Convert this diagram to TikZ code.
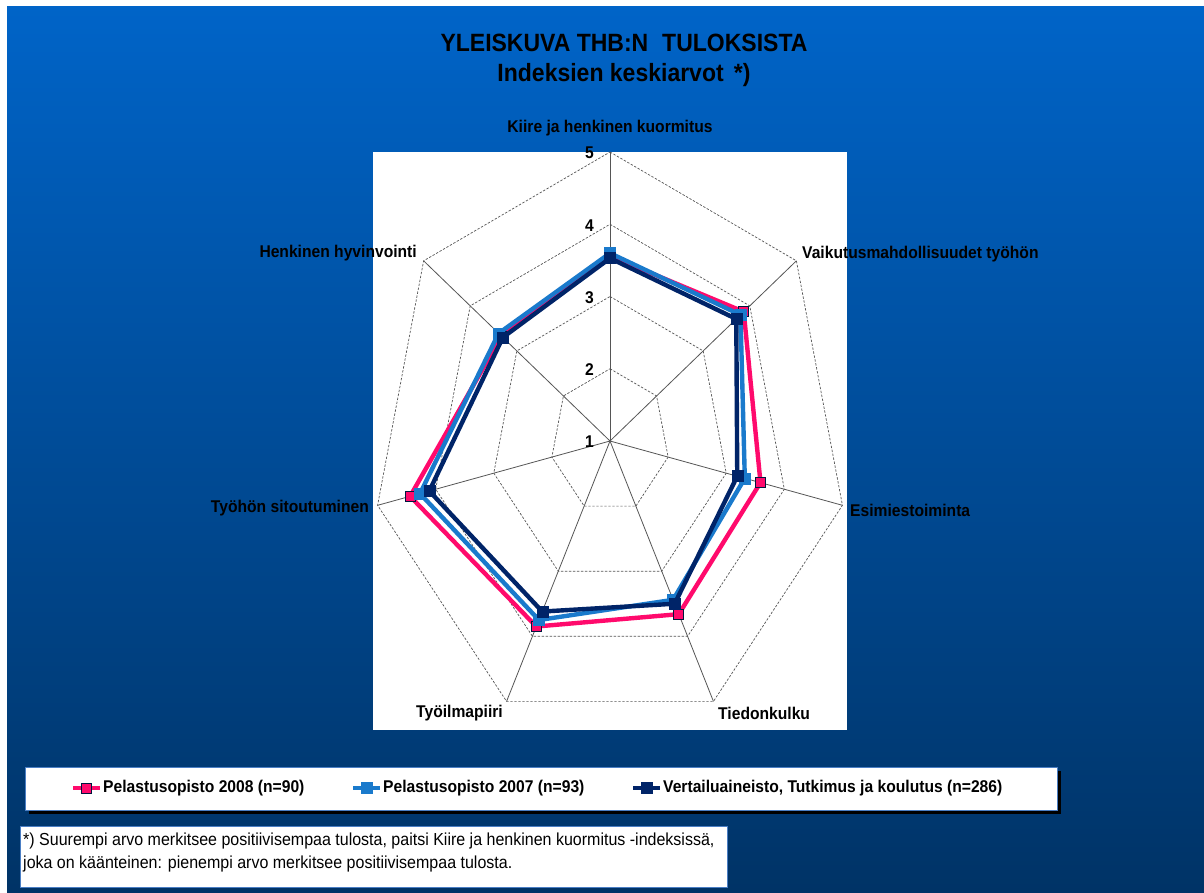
\documentclass[tikz,border=0pt]{standalone}
\usepackage{fontspec}
\setmainfont{Liberation Sans}[FakeStretch=0.92]
\definecolor{bgtop}{HTML}{0064C8}
\definecolor{bgbot}{HTML}{003366}
\definecolor{cpink}{HTML}{FF0A6C}
\definecolor{cblue}{HTML}{1A7ACC}
\definecolor{cnavy}{HTML}{002468}
\definecolor{gridc}{HTML}{555555}
\definecolor{boxedge}{HTML}{4A7EC4}
\begin{document}
\begin{tikzpicture}[x=1pt,y=-1pt,
  lab/.style={font=\bfseries\fontsize{17}{19}\selectfont, text=black, inner sep=0pt},
  ticklab/.style={font=\bfseries\fontsize{17}{19}\selectfont, text=black, inner sep=0pt, anchor=east},
  ring/.style={draw=gridc, line width=0.7pt, dash pattern=on 2.4pt off 1.6pt},
  axisline/.style={draw=gridc, line width=0.8pt},
  serpink/.style={draw=cpink, line width=4.4pt, line join=round},
  serblue/.style={draw=cblue, line width=4.4pt, line join=round},
  sernavy/.style={draw=cnavy, line width=4.4pt, line join=round},
  mkpink/.style={rectangle, minimum size=10pt, inner sep=0pt, fill=cpink, draw=cnavy!60!black, line width=0.8pt},
  mkblue/.style={rectangle, minimum size=11pt, inner sep=0pt, fill=cblue, draw=cblue, line width=0.5pt},
  mknavy/.style={rectangle, minimum size=11pt, inner sep=0pt, fill=cnavy, draw=cnavy, line width=0.5pt},
  legtext/.style={font=\bfseries\fontsize{17}{19}\selectfont, text=black, inner sep=0pt, anchor=west},
  whitebox/.style={fill=white, draw=boxedge, line width=1pt}
]
\useasboundingbox (0,0) rectangle (1204,892);
\fill[white] (0,0) rectangle (1204,892);
\shade[top color=bgtop, bottom color=bgbot] (7,6) rectangle (1204,892);
% plot area
\fill[white] (373,152) rectangle (847,730);
% title
\node[font=\bfseries\fontsize{25}{30}\selectfont, align=center, text=black, inner sep=0pt] (title) at (624,60)
  {YLEISKUVA THB:N\hspace{0.3em} TULOKSISTA\\Indeksien keskiarvot\hspace{0.15em} *)};
% radar chart
\begin{scope}[shift={(610,441)}, x=59.6pt, y=72.25pt]
  \coordinate (c) at (0,0);
  \foreach \r in {1,...,4}
    \draw[ring] (90:\r) \foreach \k in {1,...,6} { -- ({90-\k*360/7}:\r) } -- cycle;
  \foreach \k in {0,...,6} {
    \coordinate (o\k) at ({90-\k*360/7}:4);
    \draw[axisline] (c) -- (o\k);
  }
  \foreach \v [count=\k from 0] in {3.56,3.87,3.59,3.66,3.85,4.44,3.33}
    \coordinate (pk\k) at ({90-\k*360/7}:{\v-1});
  \foreach \v [count=\k from 0] in {3.60,3.80,3.32,3.44,3.75,4.27,3.39}
    \coordinate (bl\k) at ({90-\k*360/7}:{\v-1});
  \foreach \v [count=\k from 0] in {3.53,3.71,3.19,3.50,3.62,4.11,3.30}
    \coordinate (nv\k) at ({90-\k*360/7}:{\v-1});
  \draw[serpink] (pk0) -- (pk1) -- (pk2) -- (pk3) -- (pk4) -- (pk5) -- (pk6) -- cycle;
  \foreach \k in {0,...,6} \node[mkpink] (mpk\k) at (pk\k) {};
  \draw[serblue] (bl0) -- (bl1) -- (bl2) -- (bl3) -- (bl4) -- (bl5) -- (bl6) -- cycle;
  \foreach \k in {0,...,6} \node[mkblue] (mbl\k) at (bl\k) {};
  \draw[sernavy] (nv0) -- (nv1) -- (nv2) -- (nv3) -- (nv4) -- (nv5) -- (nv6) -- cycle;
  \foreach \k in {0,...,6} \node[mknavy] (mnv\k) at (nv\k) {};
\end{scope}
% tick labels
\node[ticklab] (t5) at (594,153) {5};
\node[ticklab] (t4) at (594,226) {4};
\node[ticklab] (t3) at (594,298) {3};
\node[ticklab] (t2) at (594,370) {2};
\node[ticklab] (t1) at (594,442) {1};
% axis labels
\node[lab] (l0) at (610,128) {Kiire ja henkinen kuormitus};
\node[lab, anchor=west] (l1) at (802,254) {Vaikutusmahdollisuudet työhön};
\node[lab, anchor=west] (l2) at (850,510) {Esimiestoiminta};
\node[lab, anchor=west] (l3) at (718,713) {Tiedonkulku};
\node[lab, anchor=east] (l4) at (503,713) {Työilmapiiri};
\node[lab, anchor=east] (l5) at (369,508) {Työhön sitoutuminen};
\node[lab, anchor=east] (l6) at (417,253) {Henkinen hyvinvointi};
% legend
\fill[black] (29,771) rectangle (1061,814);
\draw[whitebox] (25,767) rectangle (1057,810);
\coordinate (la0) at (73,788); \coordinate (la1) at (100,788);
\draw[cpink, line width=4.4pt] (la0) -- (la1);
\node[mkpink] (lm0) at (86.5,788) {};
\node[legtext] (lt0) at (103,788) {Pelastusopisto 2008 (n=90)};
\coordinate (lb0) at (353,788); \coordinate (lb1) at (380,788);
\draw[cblue, line width=4.4pt] (lb0) -- (lb1);
\node[mkblue] (lm1) at (366.5,788) {};
\node[legtext] (lt1) at (383,788) {Pelastusopisto 2007 (n=93)};
\coordinate (lc0) at (633,788); \coordinate (lc1) at (660,788);
\draw[cnavy, line width=4.4pt] (lc0) -- (lc1);
\node[mknavy] (lm2) at (646.5,788) {};
\node[legtext] (lt2) at (663,788) {Vertailuaineisto, Tutkimus ja koulutus (n=286)};
% footnote
\draw[whitebox] (20,826) rectangle (727,887);
\node[font=\fontsize{17.4}{23}\selectfont, align=left, anchor=north west, inner sep=0pt, text=black] (fn) at (23,833)
  {*) Suurempi arvo merkitsee positiivisempaa tulosta, paitsi Kiire ja henkinen kuormitus -indeksissä,\\joka on käänteinen: pienempi arvo merkitsee positiivisempaa tulosta.};
\end{tikzpicture}
\end{document}
